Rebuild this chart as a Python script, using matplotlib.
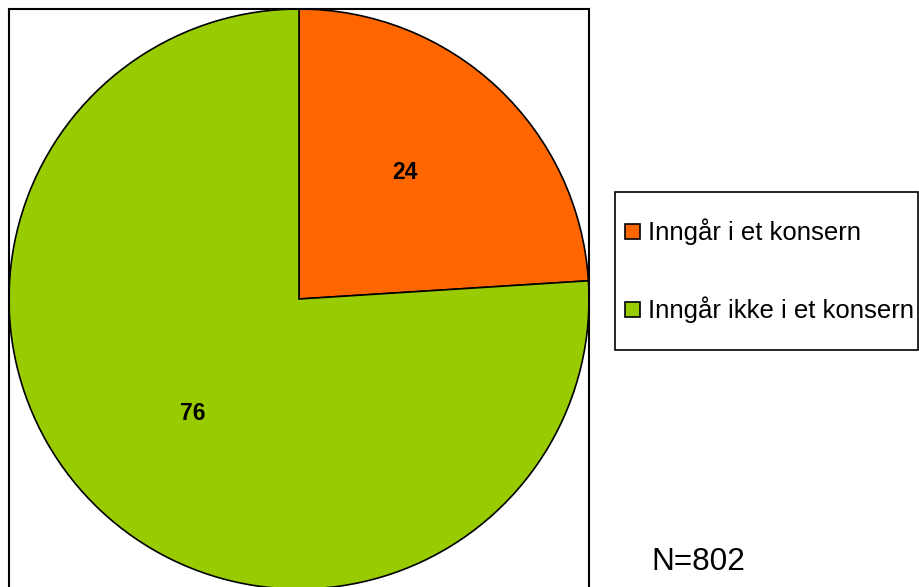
import matplotlib.pyplot as plt
from matplotlib.patches import Rectangle

plt.rcParams['font.family'] = ['Liberation Sans', 'DejaVu Sans']

# Andel bedrifter som inngår i konsern
labels = ['Inngår i et konsern', 'Inngår ikke i et konsern']
values = [24, 76]
colors = ['#FF6600', '#99CC00']
n_text = 'N=802'

W, H = 920, 587
fig = plt.figure(figsize=(W / 100, H / 100), dpi=100)

# axes box around the pie (pixel coords from the top-left)
ax = fig.add_axes([9 / W, (H - 589) / H, 580 / W, 580 / H])
wedges, texts = ax.pie(values, colors=colors, startangle=90, counterclock=False,
                       radius=1, labels=[str(v) for v in values], labeldistance=0.57,
                       wedgeprops=dict(edgecolor='black', linewidth=1.2),
                       textprops=dict(fontsize=16.5, fontweight='bold', color='black',
                                      ha='center', va='center'))
# nudge labels a bit towards the vertical centre line and upwards
for t in texts:
    x, y = t.get_position()
    t.set_position((x - 0.024 * (1 if x > 0 else -1), y + 0.02))

ax.set_xlim(-1, 1)
ax.set_ylim(-1, 1)
ax.set_aspect('auto')
ax.set_frame_on(True)
ax.set_xticks([])
ax.set_yticks([])
for s in ax.spines.values():
    s.set_visible(True)
    s.set_color('black')
    s.set_linewidth(1.5)

# legend box
fig.patches.append(Rectangle((615 / W, 1 - 350 / H), 303 / W, 158 / H,
                             transform=fig.transFigure, facecolor='white',
                             edgecolor='black', linewidth=1.2))
leg = fig.legend(wedges, labels, loc='center left',
                 bbox_to_anchor=(615 / W, 1 - 271 / H),
                 fontsize=18.5, frameon=False, borderpad=0.4, labelspacing=2.0,
                 handlelength=0.58, handleheight=0.5, handletextpad=0.3,
                 borderaxespad=0)
for h in leg.legend_handles:
    h.set_edgecolor('black')
    h.set_linewidth(1.2)

fig.text(651 / W, 1 - 562 / H, n_text, fontsize=22.7, ha='left', va='center')

fig.savefig('out.png', dpi=100)
